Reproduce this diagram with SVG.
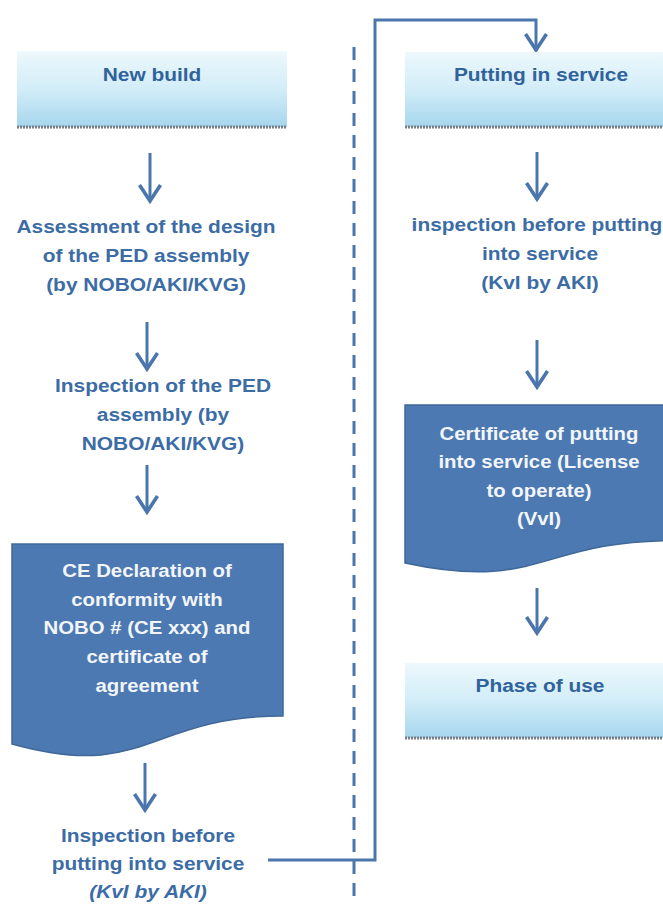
<svg xmlns="http://www.w3.org/2000/svg" width="663" height="904" viewBox="0 0 663 904">
<defs>
<linearGradient id="lightFill" x1="0" y1="0" x2="0" y2="1">
<stop offset="0" stop-color="#edf8fc"/>
<stop offset="0.5" stop-color="#d2edf8"/>
<stop offset="1" stop-color="#a6d6ee"/>
</linearGradient>
<marker id="arr" viewBox="-20 -13 24 26" refX="0" refY="0" markerWidth="24" markerHeight="26" markerUnits="userSpaceOnUse" orient="auto">
<path d="M-16,-10.5 L0,0 L-16,10.5" fill="none" stroke="#4a76ad" stroke-width="3.6" stroke-linejoin="miter" stroke-linecap="butt"/>
</marker>
</defs>
<style>
.light{fill:url(#lightFill);}
.lightEdge{stroke:#7b7f84;stroke-width:3;stroke-dasharray:2 1;fill:none;}
.doc{fill:#4c79b2;stroke:#3f6899;stroke-width:1.5;}
.conn{fill:none;stroke:#4a76ad;stroke-width:3;}
.arrow{fill:none;stroke:#4a76ad;stroke-width:3;marker-end:url(#arr);}
.divider{fill:none;stroke:#4a76ad;stroke-width:3;stroke-dasharray:13 9;}
.t{font-family:"Liberation Sans",Arial,sans-serif;font-weight:bold;font-size:19px;fill:#3b6ca6;text-anchor:middle;}
.title{fill:#30629c;}
.w{font-family:"Liberation Sans",Arial,sans-serif;font-weight:bold;font-size:18.5px;fill:#f2f5f9;text-anchor:middle;}
.it{font-style:italic;}
</style>

<g id="connectors">
<line class="divider" x1="354" y1="47" x2="354" y2="904"/>
<line class="arrow" x1="150" y1="153" x2="150" y2="201"/>
<line class="arrow" x1="147" y1="322" x2="147" y2="369"/>
<line class="arrow" x1="147" y1="465" x2="147" y2="512"/>
<line class="arrow" x1="145" y1="763" x2="145" y2="810"/>
<polyline class="arrow" points="268,860 375,860 375,20 536,20 536,50"/>
<line class="arrow" x1="537" y1="152" x2="537" y2="199"/>
<line class="arrow" x1="537" y1="340" x2="537" y2="387"/>
<line class="arrow" x1="537" y1="588" x2="537" y2="633"/>
</g>

<g id="new-build">
<rect class="light" x="17" y="51" width="270" height="76"/>
<line class="lightEdge" x1="17" y1="127" x2="287" y2="127"/>
<g transform="translate(152 0) scale(1.1 1)"><text class="t title" x="0" y="81">New build</text></g>
</g>

<g id="assessment">
<g transform="translate(146 0) scale(1.1 1)">
<text class="t" x="0" y="233">Assessment of the design</text>
<text class="t" x="0" y="262">of the PED assembly</text>
<text class="t" x="0" y="291">(by NOBO/AKI/KVG)</text>
</g>
</g>

<g id="inspection-ped">
<g transform="translate(163 0) scale(1.1 1)">
<text class="t" x="0" y="392">Inspection of the PED</text>
<text class="t" x="0" y="421">assembly (by</text>
<text class="t" x="0" y="450">NOBO/AKI/KVG)</text>
</g>
</g>

<g id="ce-declaration">
<path class="doc" d="M12,544 H283 V716 C147.5,716 147.5,781.6 12,744 Z"/>
<g transform="translate(147 0) scale(1.1 1)">
<text class="w" x="0" y="577">CE Declaration of</text>
<text class="w" x="0" y="606">conformity with</text>
<text class="w" x="0" y="634">NOBO # (CE xxx) and</text>
<text class="w" x="0" y="663">certificate of</text>
<text class="w" x="0" y="692">agreement</text>
</g>
</g>

<g id="inspection-before">
<g transform="translate(148 0) scale(1.1 1)">
<text class="t" x="0" y="842">Inspection before</text>
<text class="t" x="0" y="870">putting into service</text>
<text class="t it" x="0" y="898">(KvI by AKI)</text>
</g>
</g>

<g id="putting-in-service">
<rect class="light" x="405" y="52" width="270" height="75"/>
<line class="lightEdge" x1="405" y1="127" x2="675" y2="127"/>
<g transform="translate(541 0) scale(1.1 1)"><text class="t title" x="0" y="81">Putting in service</text></g>
</g>

<g id="inspection-kvi">
<g transform="translate(537 0) scale(1.1 1)">
<text class="t" x="0" y="231">inspection before putting</text>
</g>
<g transform="translate(540 0) scale(1.1 1)">
<text class="t" x="0" y="260">into service</text>
<text class="t" x="0" y="289">(KvI by AKI)</text>
</g>
</g>

<g id="certificate">
<path class="doc" d="M405,405 H675 V540.5 C540,540.5 540,592 405,563 Z"/>
<g transform="translate(539 0) scale(1.1 1)">
<text class="w" x="0" y="440">Certificate of putting</text>
<text class="w" x="0" y="468">into service (License</text>
<text class="w" x="0" y="497">to operate)</text>
<text class="w" x="0" y="525">(VvI)</text>
</g>
</g>

<g id="phase-of-use">
<rect class="light" x="405" y="663" width="270" height="75"/>
<line class="lightEdge" x1="405" y1="738" x2="675" y2="738"/>
<g transform="translate(540 0) scale(1.1 1)"><text class="t title" x="0" y="692">Phase of use</text></g>
</g>
</svg>
